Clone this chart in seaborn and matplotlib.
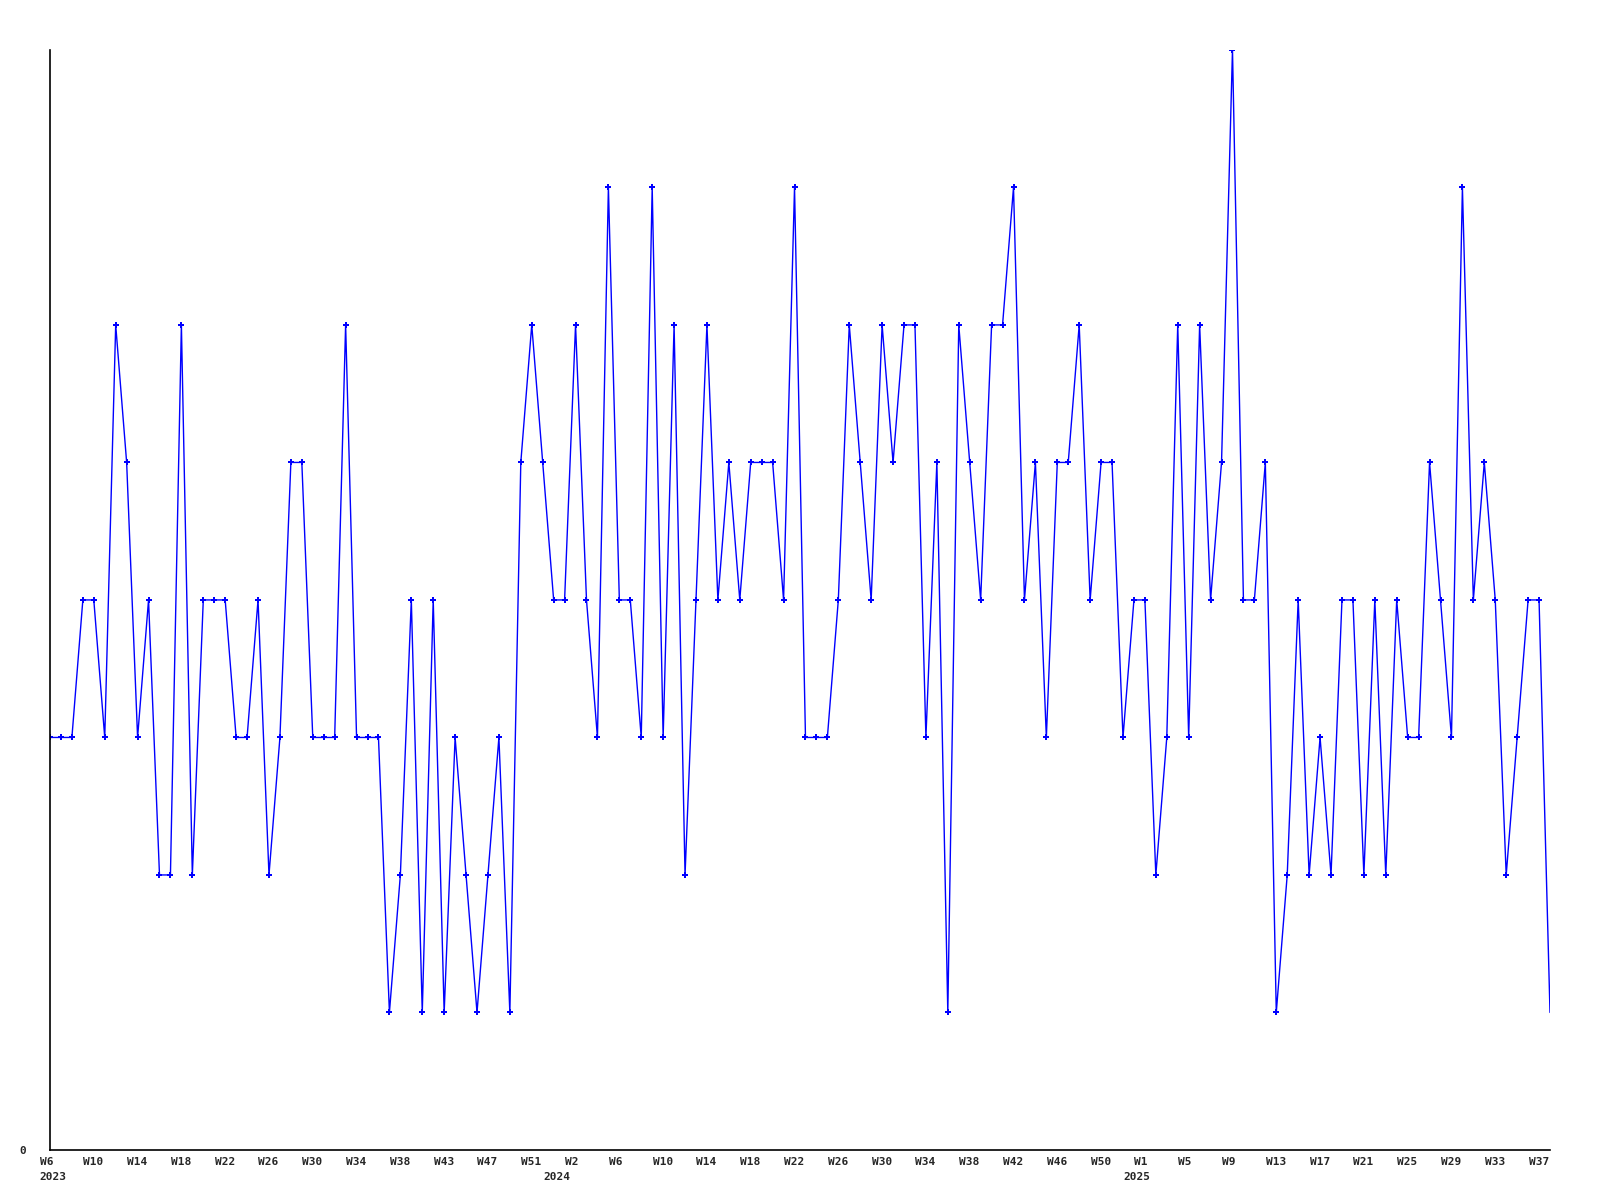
import pandas as pd
import matplotlib.pyplot as plt
import matplotlib.transforms as mtransforms
import seaborn as sns

# Valores semanales (W6 2023 -> W38 2025)
valores = [3, 3, 3, 4, 4, 3, 6, 5, 3, 4,
           2, 2, 6, 2, 4, 4, 4, 3, 3, 4,
           2, 3, 5, 5, 3, 3, 3, 6, 3, 3,
           3, 1, 2, 4, 1, 4, 1, 3, 2, 1,
           2, 3, 1, 5, 6, 5, 4, 4, 6, 4,
           3, 7, 4, 4, 3, 7, 3, 6, 2, 4,
           6, 4, 5, 4, 5, 5, 5, 4, 7, 3,
           3, 3, 4, 6, 5, 4, 6, 5, 6, 6,
           3, 5, 1, 6, 5, 4, 6, 6, 7, 4,
           5, 3, 5, 5, 6, 4, 5, 5, 3, 4,
           4, 2, 3, 6, 3, 6, 4, 5, 8, 4,
           4, 5, 1, 2, 4, 2, 3, 2, 4, 4,
           2, 4, 2, 4, 3, 3, 5, 4, 3, 7,
           4, 5, 4, 2, 3, 4, 4, 1]

# Etiquetas del eje x (una cada 4 puntos)
semanas = ["W6", "W10", "W14", "W18", "W22", "W26", "W30", "W34", "W38",
           "W43", "W47", "W51",
           "W2", "W6", "W10", "W14", "W18", "W22", "W26", "W30", "W34",
           "W38", "W42", "W46", "W50",
           "W1", "W5", "W9", "W13", "W17", "W21", "W25", "W29", "W33", "W37"]
paso_etiqueta = 4

# Años (segunda fila) y el punto donde empiezan
anios = ["2023", "2024", "2025"]
inicio_anio = [0, 46, 99]

df = pd.DataFrame({"idx": range(len(valores)), "valor": valores})

sns.set_style("white")
plt.rcParams["font.family"] = ["DejaVu Sans Mono", "DejaVu Sans"]

fig = plt.figure(figsize=(16, 12), dpi=100)
ax = fig.add_axes([0.03125, 0.0417, 0.9375, 0.9167])

sns.lineplot(data=df, x="idx", y="valor", ax=ax, color="#0000ff", linewidth=1.0,
             marker="P", markersize=4.5, markeredgewidth=0,
             markevery=list(range(len(valores) - 1)))

ax.set_xlim(0, len(valores) - 1)
ax.set_ylim(0, max(valores))
ax.set_xlabel("")
ax.set_ylabel("")

ax.xaxis.remove_overlapping_locs = False
ax.set_yticks([0])
ax.set_yticklabels(["0"], fontsize=8, fontweight="bold")
ax.set_xticks(list(range(0, len(semanas) * paso_etiqueta, paso_etiqueta)))
ax.set_xticklabels(semanas, fontsize=8, fontweight="bold", ha="left")
ax.set_xticks(inicio_anio, minor=True)
ax.set_xticklabels(anios, minor=True, fontsize=8, fontweight="bold", ha="left")
ax.tick_params(axis="both", which="both", length=0)
ax.tick_params(axis="x", which="major", pad=5)
ax.tick_params(axis="x", which="minor", pad=16.2)
ax.tick_params(axis="y", pad=17)

desplazamiento = mtransforms.ScaledTranslation(-10.5 / 100, 0, fig.dpi_scale_trans)
for etiqueta in ax.get_xticklabels() + ax.get_xticklabels(minor=True):
    etiqueta.set_transform(etiqueta.get_transform() + desplazamiento)

for lado in ["top", "right"]:
    ax.spines[lado].set_visible(False)
for lado in ["left", "bottom"]:
    ax.spines[lado].set_color("black")
    ax.spines[lado].set_linewidth(1.2)

plt.savefig("out.png", dpi=100)
